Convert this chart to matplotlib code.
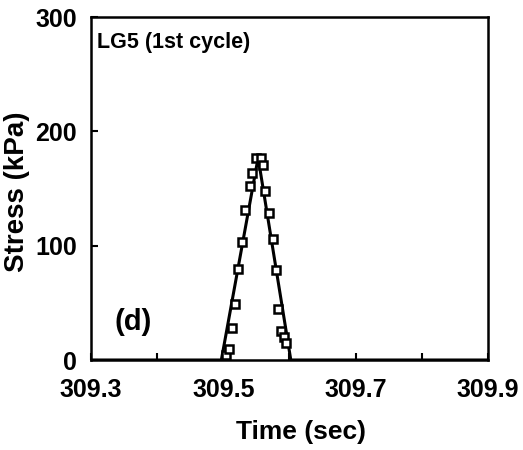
import matplotlib.pyplot as plt
from matplotlib.ticker import MultipleLocator

plt.rcParams['font.family'] = ['Liberation Sans', 'DejaVu Sans']

# measured points (open squares)
t_meas = [309.5045, 309.509, 309.5135, 309.518, 309.5225, 309.5286, 309.533,
          309.5406, 309.5436, 309.5496, 309.557, 309.560, 309.5632, 309.569,
          309.575, 309.5797, 309.5827, 309.587, 309.5917, 309.5947]
s_meas = [4, 10, 28, 49, 80, 103, 131, 152, 164, 177, 177, 171, 148, 129,
          106, 79, 45, 25, 20, 15]

# fitted pulse (solid line)
t_fit = [309.3, 309.497, 309.5526, 309.602, 309.9]
s_fit = [0, 0, 177, 0, 0]

fig = plt.figure(figsize=(5.23, 4.5), dpi=100)
ax = fig.add_axes([0.174, 0.2, 0.759, 0.762])

ax.plot(t_fit, s_fit, color='black', lw=2.2)
ax.plot(t_meas, s_meas, linestyle='none', marker='s', markersize=5.5,
        markerfacecolor='white', markeredgecolor='black', markeredgewidth=1.8)

ax.set_xlim(309.3, 309.9)
ax.set_ylim(0, 300)
ax.xaxis.set_minor_locator(MultipleLocator(0.1))
ax.yaxis.set_major_locator(MultipleLocator(100))
ax.set_xticks([309.3, 309.5, 309.7, 309.9])
ax.set_xticklabels(['309.3', '309.5', '309.7', '309.9'])
ax.tick_params(axis='both', which='both', direction='in', length=5, width=1.5,
               labelsize=18)
ax.tick_params(axis='x', pad=13)
ax.tick_params(axis='y', pad=10)
for lbl in ax.get_xticklabels() + ax.get_yticklabels():
    lbl.set_fontweight('bold')
for sp in ax.spines.values():
    sp.set_linewidth(1.8)

ax.set_xlabel('Time (sec)', fontsize=19, fontweight='bold')
ax.xaxis.set_label_coords(0.53, -0.175)
ax.set_ylabel('Stress (kPa)', fontsize=20, fontweight='bold')
ax.yaxis.set_label_coords(-0.153, 0.49)

ax.text(0.016, 0.925, 'LG5 (1st cycle)', transform=ax.transAxes,
        fontsize=15.5, fontweight='bold', va='center')
ax.text(0.06, 0.11, '(d)', transform=ax.transAxes,
        fontsize=21, fontweight='bold', va='center')

fig.savefig('out.png', dpi=100)
